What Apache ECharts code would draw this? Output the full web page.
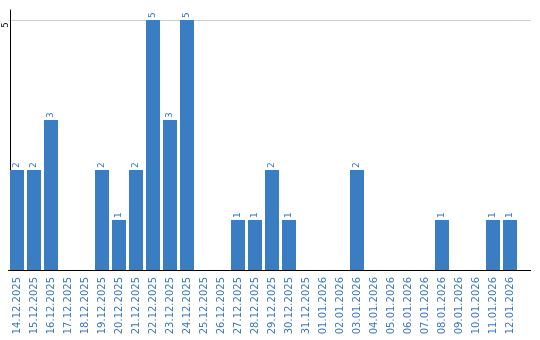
<!DOCTYPE html>
<html>
<head>
<meta charset="utf-8">
<script src="https://cdn.jsdelivr.net/npm/echarts@6/dist/echarts.min.js"></script>
<style>html,body{margin:0;padding:0;background:#fff}#c{width:540px;height:340px}</style>
</head>
<body>
<div id="c"></div>
<script>
const categories = ["14.12.2025","15.12.2025","16.12.2025","17.12.2025","18.12.2025","19.12.2025","20.12.2025","21.12.2025","22.12.2025","23.12.2025","24.12.2025","25.12.2025","26.12.2025","27.12.2025","28.12.2025","29.12.2025","30.12.2025","31.12.2025","01.01.2026","02.01.2026","03.01.2026","04.01.2026","05.01.2026","06.01.2026","07.01.2026","08.01.2026","09.01.2026","10.01.2026","11.01.2026","12.01.2026"];
const values = [2,2,3,0,0,2,1,2,5,3,5,0,0,1,1,2,1,0,0,0,2,0,0,0,0,1,0,0,1,1];
const yTicks = [5];

const chart = echarts.init(document.getElementById('c'), null, {renderer:'canvas'});
const barColor = '#3b7dc2';
const font = 'DejaVu Sans';
chart.setOption({
  animation:false,
  backgroundColor:'#fff',
  grid:{left:8.5, right:21.5, top:10, bottom:70, containLabel:false, outerBoundsMode:'none'},
  xAxis:{
    type:'category', data:categories, boundaryGap:true,
    axisLine:{show:true, lineStyle:{color:'#000', width:1}},
    axisTick:{show:false},
    axisLabel:{rotate:90, interval:0, margin:7, color:'#3a78bf', fontSize:10, fontFamily:font}
  },
  yAxis:{
    type:'value', min:0, max:5.2, interval:5, offset:-1.5,
    axisLine:{show:true, lineStyle:{color:'#000', width:1}},
    axisTick:{show:false},
    splitLine:{show:false},
    axisLabel:{rotate:90, margin:0, color:'#000', fontSize:8, fontFamily:font, padding:[0,10,0,0],
      formatter:v => yTicks.includes(v) ? String(v) : ''}
  },
  series:[{
    type:'bar', data:values.map(v => v === 0 ? {value:0, label:{show:false}} : v),
    barWidth:14, itemStyle:{color:barColor},
    label:{show:true, position:'top', rotate:90, align:'left', verticalAlign:'middle', distance:2,
      color:'#3a78bf', fontSize:9, fontFamily:font},
    markLine:{silent:true, symbol:'none', label:{show:false},
      lineStyle:{color:'#cccccc', width:1, type:'solid'},
      data:yTicks.map(t => ({yAxis:t})), z:0}
  }],
  graphic:[
    {type:'line', shape:{x1:518.5, y1:20.5, x2:531, y2:20.5}, style:{stroke:'#cccccc', lineWidth:1}},
    {type:'line', shape:{x1:518.5, y1:270.5, x2:531, y2:270.5}, style:{stroke:'#000', lineWidth:1}}
  ]
});
</script>
</body>
</html>
